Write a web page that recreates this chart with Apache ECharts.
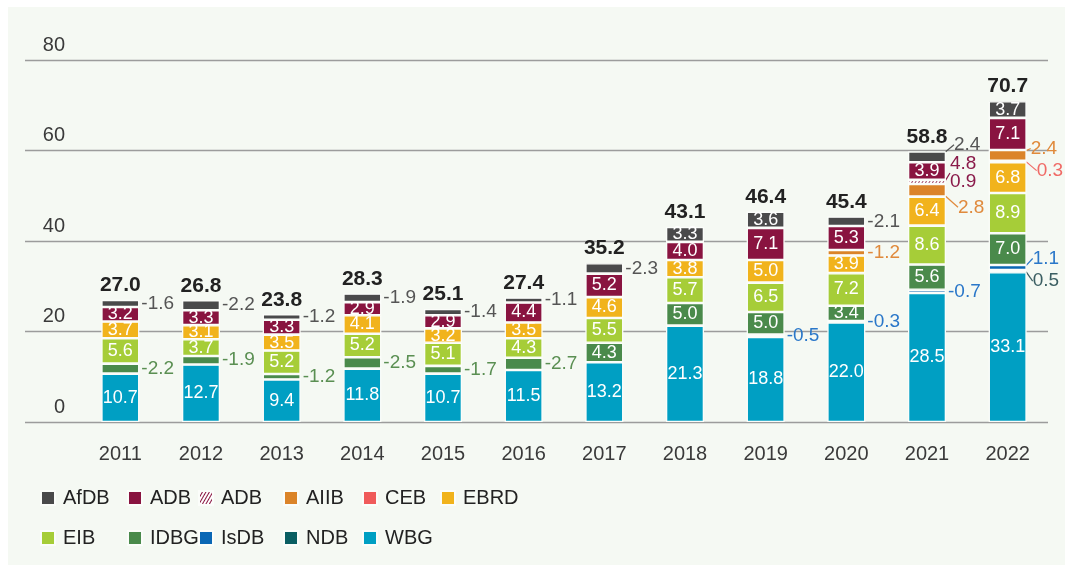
<!DOCTYPE html>
<html>
<head>
<meta charset="utf-8">
<script src="https://cdn.jsdelivr.net/npm/echarts@6/dist/echarts.min.js"></script>
<style>
  html, body { margin: 0; padding: 0; background: #ffffff; }
  #chart { position: absolute; left: 8px; top: 7px; width: 1057px; height: 558px; background: #f5f9f3; }
</style>
</head>
<body>
<div id="chart"></div>
<script>
var years = ['2011', '2012', '2013', '2014', '2015', '2016', '2017', '2018', '2019', '2020', '2021', '2022'];
var totals = ['27.0', '26.8', '23.8', '28.3', '25.1', '27.4', '35.2', '43.1', '46.4', '45.4', '58.8', '70.7'];
var yTicks = [0, 20, 40, 60, 80];

var wbg = [10.7, 12.7, 9.4, 11.8, 10.7, 11.5, 13.2, 21.3, 18.8, 22.0, 28.5, 33.1];
var ndb = [null, null, null, null, null, null, null, null, null, null, null, 0.5];
var isdb = [null, null, null, null, null, null, null, null, 0.5, 0.3, 0.7, 1.1];
var idbg = [2.2, 1.9, 1.2, 2.5, 1.7, 2.7, 4.3, 5.0, 5.0, 3.4, 5.6, 7.0];
var eib = [5.6, 3.7, 5.2, 5.2, 5.1, 4.3, 5.5, 5.7, 6.5, 7.2, 8.6, 8.9];
var ebrd = [3.7, 3.1, 3.5, 4.1, 3.2, 3.5, 4.6, 3.8, 5.0, 3.9, 6.4, 6.8];
var ceb = [null, null, null, null, null, null, null, null, null, null, null, 0.3];
var aiib = [null, null, null, null, null, null, null, null, null, 1.2, 2.8, 2.4];
var adbHatched = [null, null, null, null, null, null, null, null, null, null, 0.9, null];
var adb = [3.2, 3.3, 3.3, 2.9, 2.9, 4.4, 5.2, 4.0, 7.1, 5.3, 3.9, 7.1];
var afdb = [1.6, 2.2, 1.2, 1.9, 1.4, 1.1, 2.3, 3.3, 3.6, 2.1, 2.4, 3.7];

var font = 'Liberation Sans, Arial, sans-serif';

// stack order, bottom to top
var stackDefs = [
  { name: 'WBG', data: wbg, color: '#009fc3', text: '#2a77c9' },
  { name: 'NDB', data: ndb, color: '#0a5e62', text: '#3b5e62' },
  { name: 'IsDB', data: isdb, color: '#0a67b5', text: '#2a77c9' },
  { name: 'IDBG', data: idbg, color: '#4a8a4b', text: '#5a8f52' },
  { name: 'EIB', data: eib, color: '#a6cd38', text: '#86a83a' },
  { name: 'EBRD', data: ebrd, color: '#f1b31c', text: '#e1a21c' },
  { name: 'CEB', data: ceb, color: '#f05b5b', text: '#f06a66' },
  { name: 'AIIB', data: aiib, color: '#db8429', text: '#e08a3c' },
  { name: 'ADB*', data: adbHatched, color: '#ffffff', text: '#8a1a4a', hatch: true },
  { name: 'ADB', data: adb, color: '#891440', text: '#8a1a4a' },
  { name: 'AfDB', data: afdb, color: '#4a4a4b', text: '#555555' }
];

// labels that are nudged off their segment (with a guide line)
var shifts = {
  'AfDB:10': [6, -12],
  'ADB*:10': [2, -9],
  'AIIB:10': [10, 17],
  'AIIB:11': [2, -7],
  'CEB:11': [8, 9],
  'IsDB:11': [4, -9],
  'NDB:11': [4, 10]
};

function makeItem(def, v, i) {
  if (v == null) return null;
  var key = def.name + ':' + i;
  var moved = !!shifts[key];
  var small = v < 2.85;
  var text = (moved ? '' : '-') + v.toFixed(1);
  if (def.hatch) {
    text = (adb[i] + v).toFixed(1) + '\n' + v.toFixed(1);
  }
  return {
    value: v,
    label: small ? {
      position: 'right',
      distance: 2,
      color: def.text,
      fontSize: 19,
      lineHeight: 18,
      formatter: text
    } : {
      position: 'inside',
      color: '#ffffff',
      fontSize: 18,
      formatter: v.toFixed(1)
    },
    labelLine: {
      show: moved,
      lineStyle: { color: def.text, width: 1.2 }
    }
  };
}

var series = stackDefs.map(function (def) {
  var itemStyle = { color: def.color, borderColor: '#fbfdfa', borderWidth: 1.3 };
  if (def.hatch) {
    itemStyle.decal = {
      symbol: 'rect',
      symbolSize: 1,
      color: '#891440',
      dashArrayX: [1, 0],
      dashArrayY: [1, 2],
      rotation: -Math.PI / 3
    };
  }
  return {
    name: def.name,
    type: 'bar',
    stack: 'total',
    xAxisIndex: 1,
    yAxisIndex: 1,
    barWidth: 38,
    itemStyle: itemStyle,
    label: { show: true, fontFamily: font },
    labelLayout: function (p) {
      var s = shifts[def.name + ':' + p.dataIndex];
      return s ? { dx: s[0], dy: s[1] } : {};
    },
    data: def.data.map(function (v, i) { return makeItem(def, v, i); })
  };
});

series.push({
  name: 'Total',
  type: 'bar',
  stack: 'total',
  xAxisIndex: 1,
  yAxisIndex: 1,
  barWidth: 38,
  itemStyle: { color: 'transparent', borderWidth: 0 },
  label: {
    show: true,
    position: 'top',
    distance: 4,
    fontFamily: font,
    fontSize: 21,
    fontWeight: 'bold',
    color: '#222222',
    formatter: function (p) { return totals[p.dataIndex]; }
  },
  data: years.map(function () { return 0; })
});

function legendCol(left, names) {
  return {
    orient: 'vertical',
    left: left,
    top: 481,
    padding: 0,
    itemGap: 20,
    itemWidth: 14,
    itemHeight: 14,
    icon: 'rect',
    selectedMode: false,
    data: names,
    formatter: function (n) { return n.replace('*', ''); },
    textStyle: { fontFamily: font, fontSize: 20, lineHeight: 20, color: '#222222', padding: [0, 0, 0, 3] }
  };
}

var chart = echarts.init(document.getElementById('chart'));
chart.setOption({
  animation: false,
  grid: [
    { left: 17, right: 17, top: 53, bottom: 143 },
    { left: 72, right: 17, top: 53, bottom: 143 }
  ],
  xAxis: [
    { gridIndex: 0, type: 'value', show: false },
    {
      gridIndex: 1,
      type: 'category',
      data: years,
      axisLine: { show: false },
      axisTick: { show: false },
      axisLabel: { margin: 22, fontFamily: font, fontSize: 20, color: '#3a3a3a' }
    }
  ],
  yAxis: [
    {
      gridIndex: 0,
      type: 'value',
      min: yTicks[0],
      max: yTicks[yTicks.length - 1],
      interval: yTicks[1] - yTicks[0],
      axisLine: { show: false },
      axisTick: { show: false },
      splitLine: { lineStyle: { color: '#9c9c9c', width: 1.3 } },
      axisLabel: {
        inside: true,
        margin: 40,
        align: 'right',
        verticalAlign: 'bottom',
        padding: [0, 0, 5, 0],
        fontFamily: font,
        fontSize: 20,
        color: '#3a3a3a'
      }
    },
    { gridIndex: 1, type: 'value', min: 0, max: 80, show: false }
  ],
  legend: [
    legendCol(32, ['AfDB', 'EIB']),
    legendCol(119, ['ADB', 'IDBG']),
    legendCol(190, ['ADB*', 'IsDB']),
    legendCol(275, ['AIIB', 'NDB']),
    legendCol(354, ['CEB', 'WBG']),
    legendCol(432, ['EBRD'])
  ],
  series: series
});
</script>
</body>
</html>
